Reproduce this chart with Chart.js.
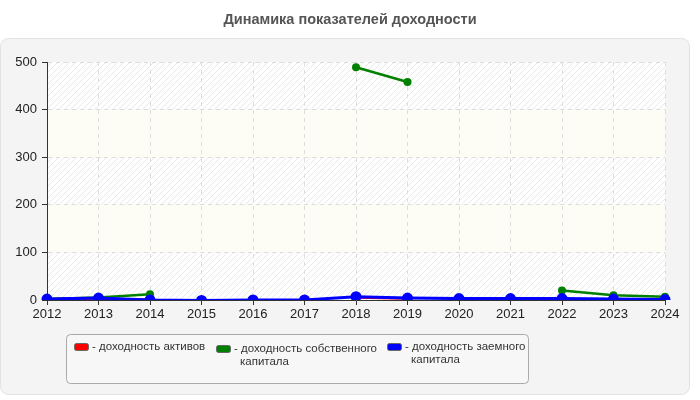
<!DOCTYPE html>
<html>
<head>
<meta charset="utf-8">
<script src="https://cdn.jsdelivr.net/npm/chart.js@4/dist/chart.umd.min.js"></script>
<style>
  html, body { margin: 0; padding: 0; background: #fff; }
  #wrap { width: 700px; height: 400px; position: relative; }
</style>
</head>
<body>
<div id="wrap"><canvas id="chart" width="700" height="400"></canvas></div>
<script>
const years = ['2012', '2013', '2014', '2015', '2016', '2017', '2018', '2019', '2020', '2021', '2022', '2023', '2024'];
const assetsReturn = [0, -1, 1, null, null, null, 5, 3, null, null, 1, -1, 1];
const equityReturn = [2, 5, 12, null, null, null, 489, 458, null, null, 20, 10, 7];
const debtReturn = [2, 4, 0, -1, 0, 0, 7, 4, 3, 3, 3, 2, 1];
const yTicks = [0, 100, 200, 300, 400, 500];
const legendLines = [
    ['- доходность активов'],
    ['- доходность собственного', 'капитала'],
    ['- доходность заемного', 'капитала']
];

// hatch pattern for the plot background
const hatch = document.createElement('canvas');
hatch.width = 6;
hatch.height = 6;
const hctx = hatch.getContext('2d');
hctx.fillStyle = '#ffffff';
hctx.fillRect(0, 0, 6, 6);
hctx.strokeStyle = '#e8e8e8';
hctx.lineWidth = 1;
hctx.beginPath();
hctx.moveTo(0, 6); hctx.lineTo(6, 0);
hctx.moveTo(-1, 1); hctx.lineTo(1, -1);
hctx.moveTo(5, 7); hctx.lineTo(7, 5);
hctx.stroke();

function roundRect(ctx, x, y, w, h, r) {
    ctx.beginPath();
    ctx.moveTo(x + r, y);
    ctx.arcTo(x + w, y, x + w, y + h, r);
    ctx.arcTo(x + w, y + h, x, y + h, r);
    ctx.arcTo(x, y + h, x, y, r);
    ctx.arcTo(x, y, x + w, y, r);
    ctx.closePath();
}

const backdrop = {
    id: 'backdrop',
    beforeDraw(chart) {
        const ctx = chart.ctx;
        const area = chart.chartArea;
        const y = chart.scales.y;
        ctx.save();
        ctx.fillStyle = '#fff';
        ctx.fillRect(0, 0, chart.width, chart.height);
        ctx.font = 'bold 14.5px "Liberation Sans", Arial, sans-serif';
        ctx.fillStyle = '#555';
        ctx.textAlign = 'center';
        ctx.textBaseline = 'middle';
        ctx.fillText('Динамика показателей доходности', 350, 20);

        roundRect(ctx, 0.5, 38.5, 689, 356, 8);
        ctx.fillStyle = '#f4f4f4';
        ctx.fill();
        ctx.strokeStyle = '#e2e2e2';
        ctx.stroke();

        const pat = ctx.createPattern(hatch, 'repeat');
        for (let i = 0; i < yTicks.length - 1; i++) {
            const top = y.getPixelForValue(yTicks[i + 1]);
            const bot = y.getPixelForValue(yTicks[i]);
            ctx.fillStyle = (i % 2 === 1) ? '#fdfdf6' : pat;
            ctx.fillRect(area.left, top, area.right - area.left, bot - top);
        }
        ctx.restore();
    },
    afterDraw(chart) {
        const ctx = chart.ctx;
        ctx.save();
        roundRect(ctx, 66.5, 334.5, 462, 49, 4);
        ctx.fillStyle = '#f7f7f7';
        ctx.fill();
        ctx.strokeStyle = '#aaaaaa';
        ctx.stroke();

        const xs = [74, 216, 387];
        const tops = [343, 345, 343];
        ctx.font = '11.5px "Liberation Sans", Arial, sans-serif';
        ctx.textBaseline = 'middle';
        ctx.textAlign = 'left';
        [assetsReturn, equityReturn, debtReturn].forEach((arr, i) => {
            const ds = chart.data.datasets.find(d => d.data === arr);
            roundRect(ctx, xs[i] + 0.5, tops[i] + 0.5, 14, 7, 2);
            ctx.fillStyle = ds.borderColor;
            ctx.fill();
            ctx.strokeStyle = '#666';
            ctx.stroke();
            ctx.fillStyle = '#333';
            legendLines[i].forEach((line, j) => {
                const tx = j === 0 ? xs[i] + 18 : xs[i] + 24;
                ctx.fillText(line, tx, tops[i] + 4 + j * 13);
            });
        });
        ctx.restore();
    }
};

new Chart(document.querySelector('#chart').getContext('2d'), {
    type: 'line',
    data: {
        labels: years,
        datasets: [{
                label: 'доходность активов',
                data: assetsReturn,
                borderColor: '#ff0000',
                backgroundColor: '#ff0000',
                order: 2
            },
            {
                label: 'доходность собственного капитала',
                data: equityReturn,
                borderColor: '#008000',
                backgroundColor: '#008000',
                order: 1
            },
            {
                label: 'доходность заемного капитала',
                data: debtReturn,
                borderColor: '#0000ff',
                backgroundColor: '#0000ff',
                borderWidth: 3,
                order: 0
            }
        ]
    },
    options: {
        responsive: false,
        animation: false,
        spanGaps: false,
        layout: { padding: { left: 0, right: 35, top: 62, bottom: 0 } },
        elements: {
            line: { borderWidth: 2.5, tension: 0 },
            point: { radius: 4, borderWidth: 0 }
        },
        plugins: {
            legend: { display: false },
            title: { display: false },
            tooltip: { enabled: false }
        },
        scales: {
            x: {
                offset: false,
                afterFit(scale) { scale.height = 100; },
                grid: {
                    color: '#dddddd',
                    tickColor: '#333',
                    tickLength: 5,
                    drawOnChartArea: true
                },
                border: { color: '#333', width: 1, dash: [4, 4] },
                ticks: {
                    color: '#222',
                    font: { family: '"Liberation Sans", Arial, sans-serif', size: 13 },
                    maxRotation: 0,
                    autoSkip: false,
                    padding: 2
                }
            },
            y: {
                min: 0,
                max: 500,
                afterFit(scale) { scale.width = 47; },
                afterBuildTicks(scale) { scale.ticks = yTicks.map(v => ({ value: v })); },
                grid: {
                    color: '#dddddd',
                    tickColor: '#333',
                    tickLength: 5
                },
                border: { color: '#333', width: 1, dash: [4, 4] },
                ticks: {
                    color: '#222',
                    font: { family: '"Liberation Sans", Arial, sans-serif', size: 13 },
                    padding: 5
                }
            }
        }
    },
    plugins: [backdrop]
});
</script>
</body>
</html>
